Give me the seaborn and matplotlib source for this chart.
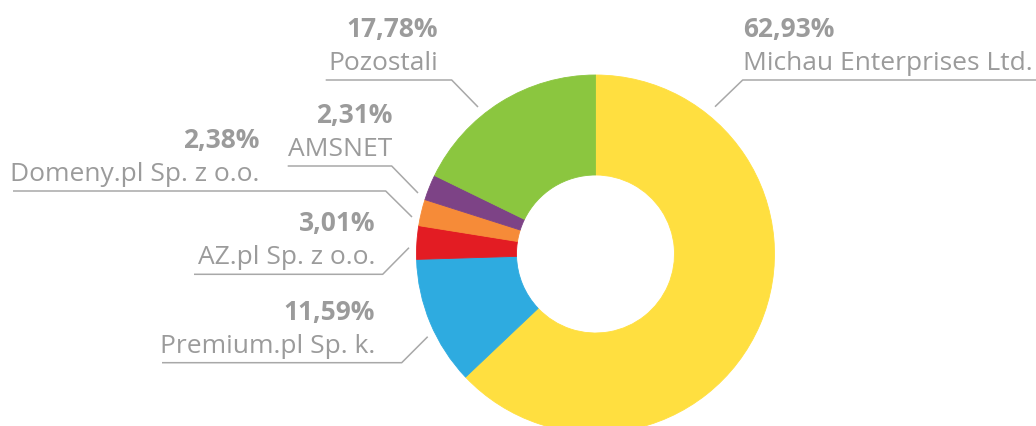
import matplotlib
matplotlib.use("Agg")
import matplotlib.pyplot as plt
import seaborn as sns

# ---- data ----
companies = ["Michau Enterprises Ltd.", "Premium.pl Sp. k.", "AZ.pl Sp. z o.o.",
             "Domeny.pl Sp. z o.o.", "AMSNET", "Pozostali"]
shares = [62.93, 11.59, 3.01, 2.38, 2.31, 17.78]
share_labels = ["62,93%", "11,59%", "3,01%", "2,38%", "2,31%", "17,78%"]

# ---- style ----
colors = ["#FFDF40", "#2EABE0", "#E31C23", "#F68B38", "#7D4386", "#8BC63F"]
sns.set_theme(style="white")
plt.rcParams["font.family"] = ["Open Sans", "DejaVu Sans"]
TXT = "#9B9B9B"
W, H = 1036, 426

# label layout in image pixels (x text anchor, align, underline polyline)
layout = [
    dict(tx=743, ha="left", line=[(1036, 80), (742.7, 80), (715, 106.7)]),
    dict(tx=375, ha="right", line=[(162, 362.7), (401.7, 362.7), (427.7, 336.7)]),
    dict(tx=375, ha="right", line=[(194, 274.3), (382.7, 274.3), (409, 247.7)]),
    dict(tx=259, ha="right", line=[(13, 191), (385.7, 191), (412, 217)]),
    dict(tx=392, ha="right", line=[(287.7, 166), (391.7, 166), (418, 193)]),
    dict(tx=438, ha="right", line=[(325.7, 80), (451.7, 80), (478, 107)]),
]

fig = plt.figure(figsize=(W / 100, H / 100), dpi=100)
ax = fig.add_axes([0, 0, 1, 1])
cx, cy, R, r_in = 595.5, H - 254, 179, 79
ax.pie(shares, colors=colors, startangle=90, counterclock=False,
       center=(cx, cy), radius=R,
       wedgeprops=dict(width=R - r_in, linewidth=0.6, antialiased=True))
for w, c in zip(ax.patches, colors):
    w.set_edgecolor(c)
ax.set_xlim(0, W)
ax.set_ylim(0, H)
ax.set_aspect("equal")
ax.axis("off")

for name, pct, lay in zip(companies, share_labels, layout):
    pts = lay["line"]
    xs = [p[0] for p in pts]
    ys = [H - p[1] for p in pts]
    ax.plot(xs, ys, color="#A8A8A8", lw=1.1, solid_capstyle="butt")
    uy = pts[0][1]
    ax.text(lay["tx"], H - (uy - 10), name, ha=lay["ha"], va="baseline",
            fontsize=19, color=TXT)
    ax.text(lay["tx"], H - (uy - 43), pct, ha=lay["ha"], va="baseline",
            fontsize=19, color=TXT, fontweight="bold")

fig.savefig("out.png", dpi=100, facecolor="white")
